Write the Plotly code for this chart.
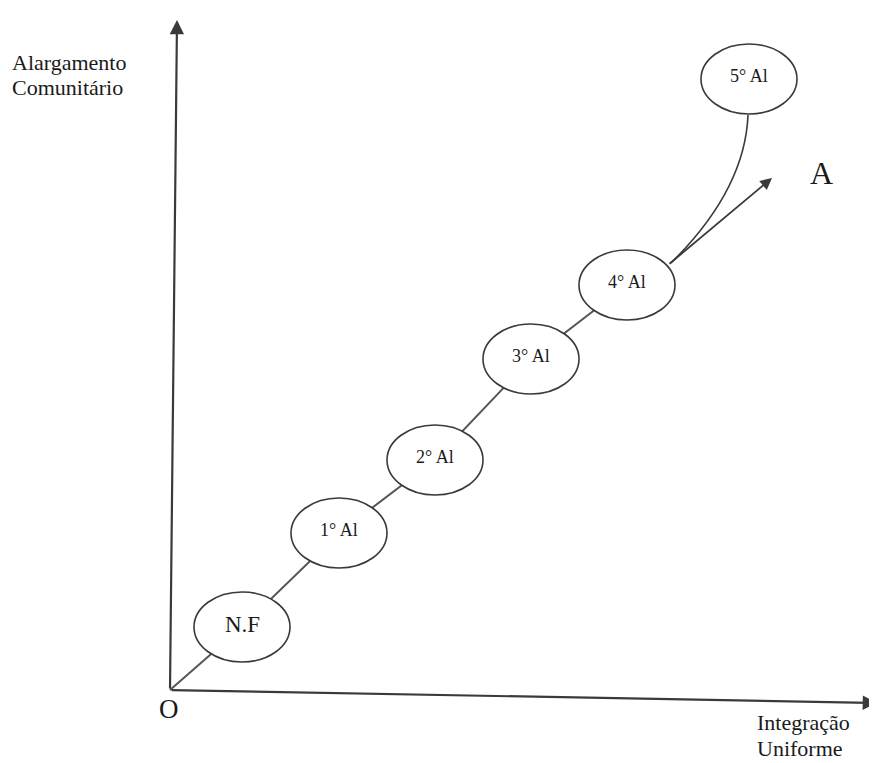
import plotly.graph_objects as go

# ---- data (pixel-space coordinates of the diagram) ----
stage_labels = ["N.F", "1° Al", "2° Al", "3° Al", "4° Al", "5° Al"]
stage_x = [242, 339, 435, 531, 627, 749]
stage_y = [627, 533, 460, 359, 285, 79]
stage_font = [23, 18, 18, 18, 18, 18]

origin = (170, 690)
y_axis_tip = (177, 20)
x_axis_tip = (877, 703)
a_arrow_start = (668, 265)
a_arrow_tip = (772, 178)

axis_labels = ["Alargamento", "Comunitário", "Integração", "Uniforme", "O", "A"]

W, H = 877, 763
PAD = 8  # page body margin
RX, RY = 48, 35
LINE = "#3a3a3a"
FONT = "Liberation Serif"
TXT = "#1a1a1a"

fig = go.Figure()

# connector line from origin through stage centres up to 4° Al
fig.add_trace(go.Scatter(
    x=[origin[0]] + stage_x[:5], y=[origin[1]] + stage_y[:5],
    mode="lines", line=dict(color="#555555", width=2),
    hoverinfo="skip", showlegend=False))

shapes = []
# curve from 4° Al to 5° Al
shapes.append(dict(type="path", xref="x", yref="y", layer="above",
                   path=f"M 671 263 Q 745 190 {stage_x[5]-1} {stage_y[5]+RY+1}",
                   line=dict(color=LINE, width=1.6)))
for cx, cy in zip(stage_x, stage_y):
    shapes.append(dict(type="circle", xref="x", yref="y", layer="above",
                       x0=cx - RX, x1=cx + RX, y0=cy - RY, y1=cy + RY,
                       fillcolor="white", line=dict(color=LINE, width=1.6)))

annotations = []
for lab, cx, cy, fs in zip(stage_labels, stage_x, stage_y, stage_font):
    annotations.append(dict(x=cx, y=cy - 3, text=lab, showarrow=False,
                            font=dict(family=FONT, size=fs, color=TXT)))

# axes arrows
for tip in (y_axis_tip, x_axis_tip):
    annotations.append(dict(x=tip[0], y=tip[1], ax=origin[0], ay=origin[1],
                            xref="x", yref="y", axref="x", ayref="y",
                            text="", showarrow=True, arrowhead=2, arrowsize=1.3,
                            arrowwidth=2.2, arrowcolor=LINE, standoff=0))
# arrow A
annotations.append(dict(x=a_arrow_tip[0], y=a_arrow_tip[1],
                        ax=a_arrow_start[0], ay=a_arrow_start[1],
                        xref="x", yref="y", axref="x", ayref="y",
                        text="", showarrow=True, arrowhead=2, arrowsize=1.3,
                        arrowwidth=1.8, arrowcolor=LINE, standoff=0))

def label(txt, x, y, size, anchor="left"):
    annotations.append(dict(x=x, y=y, text=txt, showarrow=False,
                            xanchor=anchor, yanchor="middle",
                            font=dict(family=FONT, size=size, color=TXT)))

label(axis_labels[0], 10, 62, 22)
label(axis_labels[1], 10, 87, 22)
label(axis_labels[2], 755, 722, 22)
label(axis_labels[3], 755, 748, 22)
label(axis_labels[4], 169, 709, 27, "center")
label(axis_labels[5], 821, 173, 32, "center")

fig.update_layout(
    width=W - PAD, height=H - PAD, margin=dict(l=0, r=0, t=0, b=0),
    paper_bgcolor="white", plot_bgcolor="white",
    xaxis=dict(range=[PAD, W], visible=False, fixedrange=True),
    yaxis=dict(range=[H, PAD], visible=False, fixedrange=True),
    shapes=shapes, annotations=annotations, showlegend=False)

fig.write_html("out.html")
